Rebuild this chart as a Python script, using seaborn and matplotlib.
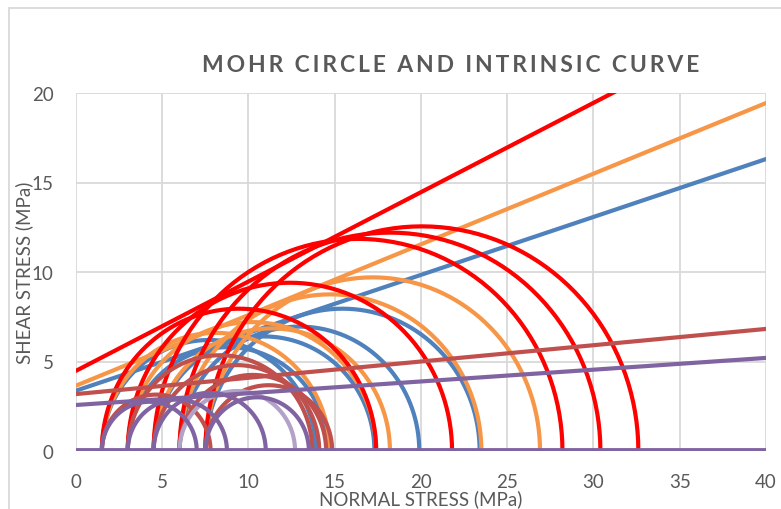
import numpy as np
import pandas as pd
import matplotlib
matplotlib.use("Agg")
import matplotlib.pyplot as plt
import seaborn as sns
from matplotlib.patches import Rectangle

# ---- data (MPa) ----
blue_s3 = [1.5, 3.0, 4.5, 6.0, 7.5]
blue_s1 = [13.9, 14.6, 17.3, 19.9, 23.4]
orange_s3 = [1.5, 3.0, 4.5, 6.0, 7.5]
orange_s1 = [14.7, 17.4, 18.2, 23.5, 26.9]
red_s3 = [1.5, 3.0, 4.5, 6.0, 7.5]
red_s1 = [17.4, 21.8, 28.2, 30.4, 32.6]
brown_s3 = [1.5, 3.0, 4.5, 6.0, 7.5]
brown_s1 = [7.8, 13.7, 14.1, 14.5, 14.85]
purple_s3 = [1.5, 3.0, 4.5, 7.5]
purple_s1 = [7.0, 8.75, 11.0, 13.5]
lilac_s3 = [6.0]
lilac_s1 = [12.7]

# intrinsic curves: tau at sigma = 0 and at sigma = 40
line_x = [0, 40]
blue_line = [3.37, 16.31]
orange_line = [3.65, 19.44]
red_line = [4.48, 24.44]
brown_line = [3.18, 6.82]
purple_line = [2.57, 5.20]
base_line = [0, 0]

title = "MOHR CIRCLE AND INTRINSIC CURVE"
xlabel = "NORMAL STRESS (MPa)"
ylabel = "SHEAR STRESS (MPa)"

C_BLUE = "#4F81BD"
C_ORANGE = "#F79646"
C_RED = "#FF0000"
C_BROWN = "#C0504D"
C_PURPLE = "#8064A2"
C_LILAC = "#B3A2C7"
GREY_TXT = "#595959"
GRID = "#D9D9D9"

sns.set_theme(style="white")
plt.rcParams["font.family"] = ["Lato", "DejaVu Sans"]

fig = plt.figure(figsize=(7.81, 5.10), dpi=100)
ax = fig.add_axes([76 / 781, 1 - 452 / 510, 690 / 781, 358 / 510])

theta = np.linspace(0, np.pi, 73)


def circles(s3, s1, color, lw=3.0):
    rows = []
    for i, (a, b) in enumerate(zip(s3, s1)):
        c = (a + b) / 2
        r = (b - a) / 2
        rows.append(pd.DataFrame({"sigma": c + r * np.cos(theta),
                                  "tau": r * np.sin(theta),
                                  "cid": i}))
    df = pd.concat(rows, ignore_index=True)
    sns.lineplot(data=df, x="sigma", y="tau", units="cid", estimator=None,
                 sort=False, color=color, lw=lw, ax=ax, legend=False)


def envelope(y, color, lw=3.0):
    df = pd.DataFrame({"sigma": line_x, "tau": y})
    sns.lineplot(data=df, x="sigma", y="tau", sort=False, color=color,
                 lw=lw, ax=ax, legend=False)


circles(blue_s3, blue_s1, C_BLUE)
envelope(blue_line, C_BLUE)
circles(orange_s3, orange_s1, C_ORANGE)
envelope(orange_line, C_ORANGE)
circles(red_s3, red_s1, C_RED)
envelope(red_line, C_RED)
circles(brown_s3, brown_s1, C_BROWN)
envelope(brown_line, C_BROWN)
circles(lilac_s3, lilac_s1, C_LILAC)
circles(purple_s3, purple_s1, C_PURPLE)
envelope(purple_line, C_PURPLE)
envelope(base_line, C_PURPLE, lw=4.2)

ax.set_xlim(0, 40)
ax.set_ylim(0, 20)
ax.set_xticks(range(0, 41, 5))
ax.set_yticks(range(0, 21, 5))
ax.grid(True, color=GRID, lw=1.3)
ax.set_axisbelow(True)
for s in ax.spines.values():
    s.set_visible(False)
ax.tick_params(axis="both", length=0, labelsize=13.5, colors=GREY_TXT)
ax.tick_params(axis="x", pad=16)
ax.tick_params(axis="y", pad=16)
for lab in ax.get_xticklabels() + ax.get_yticklabels():
    lab.set_color(GREY_TXT)

ax.set_xlabel(xlabel, fontsize=13.5, color=GREY_TXT)
ax.set_ylabel(ylabel, fontsize=13.5, color=GREY_TXT)
ax.xaxis.set_label_coords(0.5, (452 - 499) / 358)
ax.yaxis.set_label_coords(-52 / 690, 0.5)
ax.xaxis.label.set_verticalalignment("center")
ax.yaxis.label.set_verticalalignment("center")

spaced_title = "\u2009".join(title)
fig.text(451 / 781, 1 - 66 / 510, spaced_title,
         ha="center", va="center", fontsize=16.5, fontweight="bold",
         color=GREY_TXT)

fig.patches.append(Rectangle((9 / 781, -0.1), 1.2, 1 - 9 / 510 + 0.1,
                             transform=fig.transFigure, fill=False,
                             edgecolor=GRID, lw=1.3))

fig.savefig("out.png", dpi=100)
